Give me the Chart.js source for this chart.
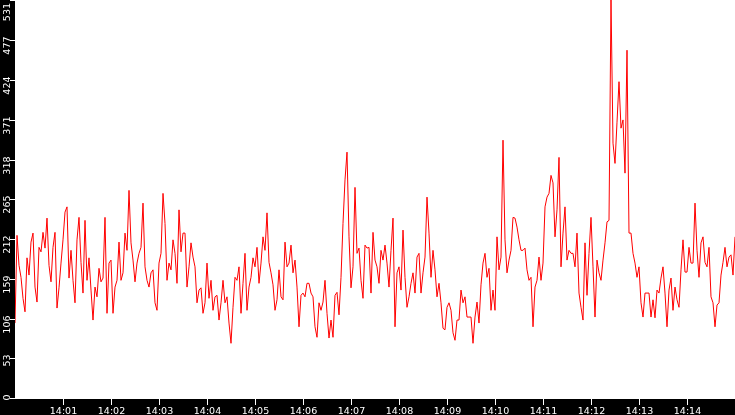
<!DOCTYPE html>
<html><head><meta charset="utf-8">
<script src="https://cdn.jsdelivr.net/npm/chart.js@4/dist/chart.umd.min.js"></script>
<style>html,body{margin:0;padding:0;background:#000;overflow:hidden}canvas{display:block}</style>
</head><body>
<canvas id="c" width="735" height="415"></canvas>
<script>
// Sample spacing (seconds) from 14:00:00
const sampleStepSeconds = 2.5;
const valuesPart1 = [100,217,177,161,133,115,187,164,208,220,148,128,201,195,221,200,240,177,155,201,221,120,147,180,211,248,255,160,197,157,127,211,241,181,140,237,157,187,144,104,148,135,173,155,160,241,113,180];
const valuesPart2 = [184,113,148,157,208,157,167,220,197,277,207,184,155,180,193,201,260,175,157,148,167,171,127,117,180,193,273,233,157,180,171,211,193,153,251,195,220,220,148,175,207,188,175,127,144];
const valuesPart3 = [147,113,127,180,133,157,117,135,137,104,127,157,127,135,100,73,121,161,157,175,113,153,193,117,148,161,187,175,201,153,180,215,197,247,181,167,151,117,131,171,135,131,208,175,180];
const valuesPart4 = [204,167,184,148,95,137,140,135,153,153,140,135,95,81,127,117,128,157,113,80,104,81,137,141,111,161,233,291,328,215,147,175,281,193,200,157,133,204,200,201,140,221,184,175,153];
const valuesPart5 = [197,184,204,180,148,197,240,95,167,175,144,224,161,121,135,153,167,140,188,193,140,167,188,268,220,161,197,171,135,153,127,93,91,121,127,117,87,77,104,104,144,127,135,108,108];
const valuesPart6 = [108,73,108,128,100,151,180,193,161,173,117,144,117,215,171,188,344,211,167,184,197,241,240,228,211,197,197,200,171,157,161,95,148,157,188,157,180,255,268,273,297,287,215,251,321];
const valuesPart7 = [175,220,255,184,197,193,193,175,220,140,121,104,207,137,193,241,175,108,184,167,157,184,207,235,237,531,340,313,368,422,360,371,300,464,220,220,193,180,161,175,127,108,140,140,140];
const valuesPart8 = [108,131,107,144,140,160,175,140,95,144,160,117,148,131,121,171,211,168,168,201,180,180,260,197,161,207,215,181,175,201,135,127,95,124,127,164,181,201,175,188,191,164,215];
const values = [].concat(valuesPart1,valuesPart2,valuesPart3,valuesPart4,valuesPart5,valuesPart6,valuesPart7,valuesPart8);

const xTickSeconds = [60,120,180,240,300,360,420,480,540,600,660,720,780,840];
const xTickLabels = ['14:01','14:02','14:03','14:04','14:05','14:06','14:07','14:08','14:09','14:10','14:11','14:12','14:13','14:14'];
const yTickValues = [0,53,106,159,212,265,318,371,424,477,531];
const yTickLabels = ['0','53','106','159','212','265','318','371','424','477','531'];

const FONT = '9.5px "DejaVu Sans"';

const framePlugin = {
  id: 'frame',
  beforeDraw(chart) {
    const {ctx, chartArea: a} = chart;
    ctx.save();
    ctx.fillStyle = '#000';
    ctx.fillRect(0, 0, chart.width, chart.height);
    ctx.fillStyle = '#fff';
    ctx.fillRect(a.left, a.top, a.right - a.left, a.bottom - a.top + 1);
    ctx.restore();
  },
  afterDraw(chart) {
    const {ctx, chartArea: a, scales} = chart;
    ctx.save();
    ctx.strokeStyle = '#fff';
    ctx.fillStyle = '#fff';
    ctx.lineWidth = 1;
    ctx.font = FONT;
    // x ticks
    ctx.textAlign = 'center';
    ctx.textBaseline = 'alphabetic';
    xTickSeconds.forEach((s, i) => {
      const px = Math.round(scales.x.getPixelForValue(s)) + 0.5;
      ctx.beginPath();
      ctx.moveTo(px, a.bottom + 1);
      ctx.lineTo(px, a.bottom + 7);
      ctx.stroke();
      ctx.fillText(xTickLabels[i], px, a.bottom + 16);
    });
    // y ticks
    yTickValues.forEach((v, i) => {
      const py = Math.round(scales.y.getPixelForValue(v)) + 0.5;
      ctx.beginPath();
      ctx.moveTo(a.left - 5, Math.min(py, a.bottom + 0.5));
      ctx.lineTo(a.left, Math.min(py, a.bottom + 0.5));
      ctx.stroke();
      const top = Math.max(3, py - 4);
      ctx.save();
      ctx.translate(9.5, top);
      ctx.rotate(-Math.PI / 2);
      ctx.textAlign = 'right';
      ctx.textBaseline = 'alphabetic';
      ctx.fillText(yTickLabels[i], 0, 0);
      ctx.restore();
    });
    ctx.restore();
  }
};

new Chart(document.getElementById('c'), {
  type: 'line',
  data: {
    datasets: [{
      data: values.map((v, i) => ({x: i * sampleStepSeconds, y: v})),
      borderColor: '#ff0000',
      borderWidth: 1,
      pointRadius: 0,
      tension: 0,
      fill: false
    }]
  },
  options: {
    responsive: false,
    animation: false,
    devicePixelRatio: 1,
    events: [],
    layout: {padding: {left: 15, right: 0, top: 0, bottom: 17}},
    plugins: {legend: {display: false}, tooltip: {enabled: false}},
    scales: {
      x: {type: 'linear', min: 0, max: 900, display: false},
      y: {type: 'linear', min: 0, max: 531, display: false}
    }
  },
  plugins: [framePlugin]
});
</script>
</body></html>
